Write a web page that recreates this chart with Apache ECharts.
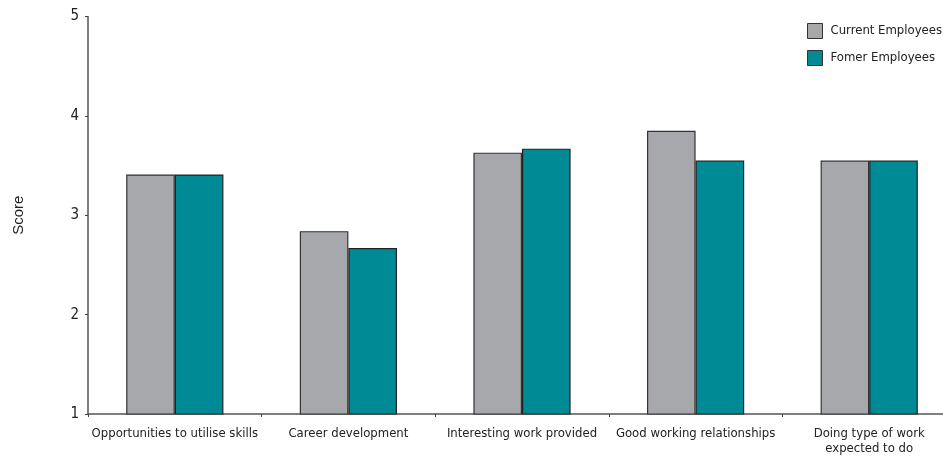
<!DOCTYPE html>
<html><head><meta charset="utf-8">
<script src="https://cdn.jsdelivr.net/npm/echarts@6/dist/echarts.min.js"></script>
<style>html,body{margin:0;padding:0;background:#fff}#c{width:943px;height:457px}</style>
</head><body><div id="c"></div>
<script>
var categories = ["Opportunities to utilise skills","Career development","Interesting work provided","Good working relationships","Doing type of work\nexpected to do"];
var currentEmployees = [3.41, 2.84, 3.63, 3.85, 3.55];
var formerEmployees = [3.41, 2.67, 3.67, 3.55, 3.55];
var seriesNames = ["Current Employees", "Fomer Employees"];
var FONT = "'Liberation Sans Narrow','DejaVu Sans Condensed',sans-serif";
var chart = echarts.init(document.getElementById('c'));
chart.setOption({
  animation:false,
  grid:{left:88, top:16.5, width:868, height:397.5, containLabel:false, outerBoundsMode:'none'},
  legend:{orient:'vertical', left:807, top:23, padding:0, icon:'rect', itemWidth:15, itemHeight:15, itemGap:11,
    textStyle:{fontFamily:FONT, fontSize:13, color:'#222', padding:[0,0,0,3]},
    itemStyle:{borderColor:'#333', borderWidth:1},
    data:seriesNames},
  xAxis:{type:'category', data:categories,
    axisLine:{lineStyle:{color:'#555', width:1.5}},
    axisTick:{show:true, length:3, lineStyle:{color:'#444'}},
    axisLabel:{fontFamily:FONT, fontSize:13, color:'#222', margin:12, lineHeight:15, interval:0}},
  yAxis:{type:'value', min:1, max:5, interval:1, name:'Score', nameLocation:'middle', nameGap:62,
    nameTextStyle:{fontFamily:"'Liberation Sans',Arial,sans-serif", fontSize:15, color:'#222'},
    splitLine:{show:false},
    axisLine:{show:true, lineStyle:{color:'#555', width:1.5}},
    axisTick:{show:true, length:3, lineStyle:{color:'#444'}},
    axisLabel:{fontFamily:FONT, fontSize:15, color:'#222', margin:9}},
  series:[
    {name:seriesNames[0], type:'bar', data:currentEmployees, barGap:'0%', barCategoryGap:'44%',
      itemStyle:{color:'#a7a8ab', borderColor:'#333', borderWidth:1.2}},
    {name:seriesNames[1], type:'bar', data:formerEmployees,
      itemStyle:{color:'#008a96', borderColor:'#222', borderWidth:1.2}}
  ]
});
</script></body></html>
